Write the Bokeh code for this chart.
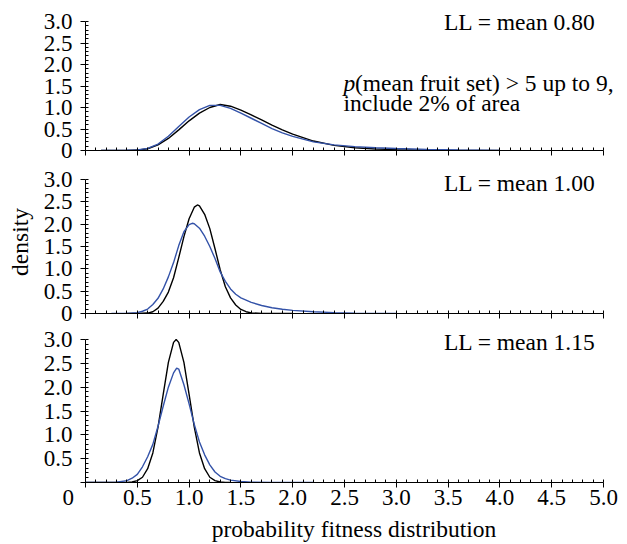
from bokeh.plotting import figure
from bokeh.layouts import column
from bokeh.models import Range1d, FixedTicker, CustomJSTickFormatter, Label
from bokeh.embed import file_html
from bokeh.resources import INLINE

FONT = "Liberation Serif"
BLUE = "#3352a8"
BLACK = "#000000"

# ---- tick positions / labels ----
x_major = [0.0, 0.5, 1.0, 1.5, 2.0, 2.5, 3.0, 3.5, 4.0, 4.5, 5.0]
x_minor = [i / 10 for i in range(51)]
y_major = [0.0, 0.5, 1.0, 1.5, 2.0, 2.5, 3.0]
y_minor = [i / 10 for i in range(31)]

panel_titles = ["LL = mean 0.80", "LL = mean 1.00", "LL = mean 1.15"]
note_italic = "p"
note_line1 = "(mean fruit set) > 5 up to 9,"
note_line2 = "include 2% of area"
x_title = "probability fitness distribution"
y_title = "density"

# ---- panel 1 (LL = mean 0.80) ----
x1_black = [0.15, 0.3, 0.4, 0.5, 0.6, 0.7, 0.8, 0.9, 1.0, 1.1, 1.2, 1.3, 1.4, 1.5, 1.6,
            1.7, 1.8, 1.9, 2.0, 2.2, 2.4, 2.6, 2.8, 3.0, 3.3, 3.6, 4.0]
y1_black = [0.0, 0.0, 0.0, 0.01, 0.04, 0.13, 0.28, 0.48, 0.69, 0.87, 1.00, 1.07, 1.03, 0.94, 0.83,
            0.71, 0.59, 0.48, 0.38, 0.22, 0.12, 0.065, 0.035, 0.02, 0.008, 0.003, 0.0]
x1_blue = [0.15, 0.3, 0.4, 0.5, 0.6, 0.7, 0.8, 0.9, 1.0, 1.1, 1.2, 1.3, 1.4, 1.5, 1.6,
           1.7, 1.8, 1.9, 2.0, 2.2, 2.4, 2.6, 2.8, 3.0, 3.3, 3.6, 4.0]
y1_blue = [0.0, 0.0, 0.005, 0.015, 0.05, 0.15, 0.33, 0.56, 0.78, 0.95, 1.05, 1.05, 0.98, 0.87, 0.75,
           0.63, 0.51, 0.41, 0.33, 0.20, 0.13, 0.09, 0.065, 0.045, 0.025, 0.012, 0.004]

# ---- panel 2 (LL = mean 1.00) ----
x2_black = [0.4, 0.5, 0.6, 0.65, 0.7, 0.75, 0.8, 0.85, 0.9, 0.95, 1.0, 1.05, 1.08, 1.1, 1.15,
            1.2, 1.25, 1.3, 1.35, 1.4, 1.45, 1.5, 1.55, 1.6, 1.7, 2.0]
y2_black = [0.0, 0.0, 0.01, 0.04, 0.12, 0.27, 0.48, 0.80, 1.25, 1.72, 2.12, 2.38, 2.43, 2.41, 2.22,
            1.90, 1.45, 0.98, 0.60, 0.35, 0.19, 0.09, 0.04, 0.015, 0.0, 0.0]
x2_blue = [0.25, 0.4, 0.5, 0.55, 0.6, 0.65, 0.7, 0.75, 0.8, 0.85, 0.9, 0.95, 1.0, 1.03, 1.05,
           1.1, 1.15, 1.2, 1.25, 1.3, 1.35, 1.4, 1.45, 1.5, 1.6, 1.7, 1.8, 1.9, 2.0, 2.2,
           2.4, 2.6, 3.0]
y2_blue = [0.0, 0.0, 0.02, 0.05, 0.10, 0.20, 0.34, 0.55, 0.82, 1.14, 1.52, 1.83, 1.99, 2.02, 2.01,
           1.91, 1.73, 1.50, 1.23, 0.93, 0.72, 0.55, 0.43, 0.35, 0.25, 0.18, 0.13, 0.095, 0.07, 0.04,
           0.02, 0.008, 0.0]

# ---- panel 3 (LL = mean 1.15) ----
x3_black = [0.0, 0.4, 0.45, 0.5, 0.55, 0.6, 0.65, 0.7, 0.75, 0.8, 0.85, 0.875, 0.9, 0.95, 1.0,
            1.05, 1.1, 1.15, 1.2, 1.25, 1.3, 1.35, 1.4]
y3_black = [0.0, 0.0, 0.01, 0.04, 0.11, 0.29, 0.62, 1.16, 1.85, 2.52, 2.94, 3.0, 2.94, 2.52, 1.85,
            1.16, 0.62, 0.29, 0.11, 0.04, 0.01, 0.0, 0.0]
x3_blue = [0.0, 0.2, 0.3, 0.4, 0.45, 0.5, 0.55, 0.6, 0.65, 0.7, 0.75, 0.8, 0.85, 0.88, 0.9,
           0.95, 1.0, 1.05, 1.1, 1.15, 1.2, 1.25, 1.3, 1.35, 1.4, 1.5, 1.6, 1.8, 2.2]
y3_blue = [0.0, 0.0, 0.005, 0.04, 0.09, 0.17, 0.33, 0.54, 0.80, 1.18, 1.60, 2.00, 2.30, 2.40, 2.38,
           2.05, 1.65, 1.22, 0.85, 0.58, 0.37, 0.22, 0.13, 0.08, 0.05, 0.02, 0.006, 0.0, 0.0]

TICK_FS = "23px"
TEXT_FS = "23.5px"

# layout (pixels)
W = 627
LEFT = 85          # frame left
AX_RIGHT = 603     # pixel of x = 5.0
FRAME_RIGHT = 622  # frame extends a bit past 5.0 so the note is not clipped
X_END = 5.0 * (FRAME_RIGHT - LEFT) / (AX_RIGHT - LEFT)
EXTRA_TOP = 9      # frame extends above y = 3.0


def make_panel(h30, b_top, b_bottom, show_x_labels, hide_y_zero):
    frame_h = h30 + EXTRA_TOP
    y_end = 3.0 * frame_h / h30
    p = figure(width=W, height=b_top + frame_h + b_bottom, output_backend="svg",
               toolbar_location=None,
               x_range=Range1d(0, X_END), y_range=Range1d(0, y_end),
               min_border_left=LEFT, min_border_right=W - FRAME_RIGHT,
               min_border_top=b_top, min_border_bottom=b_bottom)
    p.outline_line_color = None
    p.grid.visible = False
    p.background_fill_color = "white"
    p.border_fill_color = "white"

    xa = p.xaxis[0]
    xa.bounds = (0, 5.0)
    xa.ticker = FixedTicker(ticks=x_major, minor_ticks=x_minor)
    xa.major_tick_out = 5
    xa.major_tick_in = 0
    xa.minor_tick_in = 3
    xa.minor_tick_out = 0
    xa.axis_line_color = BLACK
    xa.major_tick_line_color = BLACK
    xa.minor_tick_line_color = BLACK
    xa.major_label_text_font = FONT
    xa.major_label_text_color = BLACK
    if show_x_labels:
        xa.major_label_text_font_size = TICK_FS
        xa.major_label_text_line_height = 1.0
        xa.major_label_standoff = -3
        xa.formatter = CustomJSTickFormatter(
            code="return tick === 0 ? '0\\u00a0\\u00a0\\u00a0\\u00a0\\u00a0\\u00a0' : tick.toFixed(1);")
    else:
        xa.major_label_text_font_size = "1px"
        xa.major_label_standoff = 0
        xa.formatter = CustomJSTickFormatter(code="return '';")

    ya = p.yaxis[0]
    ya.bounds = (0, 3.0)
    ya.ticker = FixedTicker(ticks=y_major, minor_ticks=y_minor)
    ya.major_tick_out = 5
    ya.major_tick_in = 0
    ya.minor_tick_in = 3
    ya.minor_tick_out = 0
    ya.axis_line_color = BLACK
    ya.major_tick_line_color = BLACK
    ya.minor_tick_line_color = BLACK
    ya.major_label_text_font = FONT
    ya.major_label_text_font_size = TICK_FS
    ya.major_label_text_color = BLACK
    ya.major_label_standoff = 8
    if hide_y_zero:
        ya.formatter = CustomJSTickFormatter(code="return tick === 0 ? '' : tick.toFixed(1);")
    else:
        ya.formatter = CustomJSTickFormatter(code="return tick === 0 ? '0' : tick.toFixed(1);")
    return p


def add_text(p, x, y, text, style="normal", x_offset=0, align="left"):
    p.add_layout(Label(x=x, y=y, x_offset=x_offset, text=text, text_align=align,
                       text_baseline="alphabetic", text_font=FONT, text_font_style=style,
                       text_font_size=TEXT_FS, text_color=BLACK))


# fig1: frame top 12, y=3 at 21, y=0 at 150
p1 = make_panel(129, 12, 12, False, False)
p1.line(x1_black, y1_black, line_color=BLACK, line_width=1.4)
p1.line(x1_blue, y1_blue, line_color=BLUE, line_width=1.4)
add_text(p1, 4.923, 3.0, panel_titles[0], align="right")
add_text(p1, 2.49, 1.58, note_italic, style="italic")
add_text(p1, 2.49, 1.58, note_line1, x_offset=11.5)
add_text(p1, 2.49, 1.116, note_line2)

# fig2: y=3 at 179, y=0 at 313
p2 = make_panel(134, 8, 12, False, False)
p2.line(x2_black, y2_black, line_color=BLACK, line_width=1.4)
p2.line(x2_blue, y2_blue, line_color=BLUE, line_width=1.4)
add_text(p2, 4.923, 2.93, panel_titles[1], align="right")
ya2 = p2.yaxis[0]
ya2.axis_label = y_title
ya2.axis_label_text_font = FONT
ya2.axis_label_text_font_size = TEXT_FS
ya2.axis_label_text_font_style = "normal"
ya2.axis_label_text_color = BLACK
ya2.axis_label_standoff = 8

# fig3: y=3 at 339, y=0 at 482
p3 = make_panel(143, 5, 62, True, True)
p3.line(x3_black, y3_black, line_color=BLACK, line_width=1.4)
p3.line(x3_blue, y3_blue, line_color=BLUE, line_width=1.4)
add_text(p3, 4.923, 2.94, panel_titles[2], align="right")
xa3 = p3.xaxis[0]
xa3.axis_label = x_title
xa3.axis_label_text_font = FONT
xa3.axis_label_text_font_size = TEXT_FS
xa3.axis_label_text_font_style = "normal"
xa3.axis_label_text_color = BLACK
xa3.axis_label_standoff = 3

layout = column(p1, p2, p3, spacing=0)
open("out.html", "w").write(file_html(layout, INLINE))
